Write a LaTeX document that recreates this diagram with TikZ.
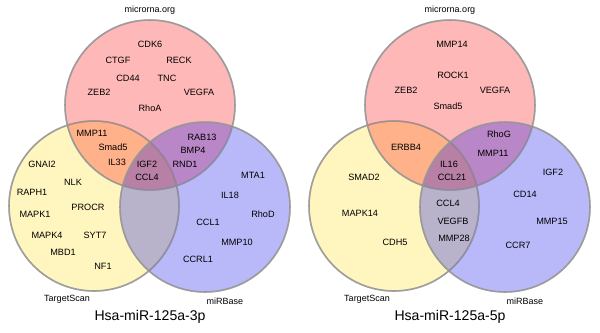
\documentclass[tikz,border=0pt]{standalone}
\usepackage{fontspec}
\setmainfont{Liberation Sans}
\usepackage{tikz}
\usetikzlibrary{positioning}
\definecolor{vennRed}{RGB}{255, 0, 0}
\definecolor{vennYellow}{RGB}{255, 219, 23}
\definecolor{vennBlue}{RGB}{5, 5, 237}
\definecolor{vennLine}{RGB}{150, 150, 150}
\tikzset{
  venn/.style={fill opacity=0.28, draw=vennLine, draw opacity=0.7, line width=1.1pt},
  gene/.style={inner sep=0pt, font=\fontsize{6.5}{7.5}\selectfont},
  source/.style={inner sep=0pt, font=\fontsize{6.4}{7.5}\selectfont},
  caption/.style={inner sep=0pt, font=\fontsize{10}{12}\selectfont}
}

\begin{document}
\begin{tikzpicture}[x=0.025cm, y=-0.025cm]
      \useasboundingbox (0,0) rectangle (600,332);

      % ---- Left diagram: Hsa-miR-125a-3p ----
      \fill[venn, fill=vennYellow] (94,206) circle[radius=85];
      \fill[venn, fill=vennRed] (150,105) circle[radius=85];
      \fill[venn, fill=vennBlue] (205,207) circle[radius=85];
      \draw[venn, fill=none] (94,206) circle[radius=85];
      \draw[venn, fill=none] (205,207) circle[radius=85];
      \draw[venn, fill=none] (150,105) circle[radius=85];

      \node[source] (lmirna) at (150,10) {microrna.org};
      \node[source] (ltscan) at (67,299) {TargetScan};
      \node[source] (lmirbase) at (225,301) {miRBase};
      \node[caption] (ltitle) at (150,317) {Hsa-miR-125a-3p};

      % microrna.org only
      \node[gene] (lcdk6) at (150,44) {CDK6};
      \node[gene] (lctgf) at (118,60) {CTGF};
      \node[gene] (lreck) at (179,60) {RECK};
      \node[gene] (lcd44) at (128,78) {CD44};
      \node[gene] (ltnc) at (167,78) {TNC};
      \node[gene] (lzeb2) at (99,92) {ZEB2};
      \node[gene] (lvegfa) at (199,92) {VEGFA};
      \node[gene] (lrhoa) at (150,108) {RhoA};
      % microrna.org and TargetScan
      \node[gene] (lmmp11) at (92,133) {MMP11};
      \node[gene] (lsmad5) at (113,147) {Smad5};
      \node[gene] (lil33) at (117,162) {IL33};
      % microrna.org and miRBase
      \node[gene] (lrab13) at (202,137) {RAB13};
      \node[gene] (lbmp4) at (193,150) {BMP4};
      \node[gene] (lrnd1) at (185,164) {RND1};
      % all three
      \node[gene] (ligf2) at (147,164) {IGF2};
      \node[gene] (lccl4) at (147,177) {CCL4};
      % TargetScan only
      \node[gene] (lgnai2) at (42,164) {GNAI2};
      \node[gene] (lnlk) at (73,182) {NLK};
      \node[gene] (lraph1) at (32,192) {RAPH1};
      \node[gene] (lprocr) at (88,207) {PROCR};
      \node[gene] (lmapk1) at (35,214) {MAPK1};
      \node[gene] (lmapk4) at (47,235) {MAPK4};
      \node[gene] (lsyt7) at (95,235) {SYT7};
      \node[gene] (lmbd1) at (63,252) {MBD1};
      \node[gene] (lnf1) at (103,266) {NF1};
      % miRBase only
      \node[gene] (lmta1) at (253,175) {MTA1};
      \node[gene] (lil18) at (230,195) {IL18};
      \node[gene] (lrhod) at (263,214) {RhoD};
      \node[gene] (lccl1) at (208,222) {CCL1};
      \node[gene] (lmmp10) at (237,242) {MMP10};
      \node[gene] (lccrl1) at (198,259) {CCRL1};

      % ---- Right diagram: Hsa-miR-125a-5p ----
      \fill[venn, fill=vennYellow] (394,206) circle[radius=85];
      \fill[venn, fill=vennRed] (450,105) circle[radius=85];
      \fill[venn, fill=vennBlue] (505,207) circle[radius=85];
      \draw[venn, fill=none] (394,206) circle[radius=85];
      \draw[venn, fill=none] (505,207) circle[radius=85];
      \draw[venn, fill=none] (450,105) circle[radius=85];

      \node[source] (rmirna) at (450,10) {microrna.org};
      \node[source] (rtscan) at (367,299) {TargetScan};
      \node[source] (rmirbase) at (525,301) {miRBase};
      \node[caption] (rtitle) at (450,317) {Hsa-miR-125a-5p};

      % microrna.org only
      \node[gene] (rmmp14) at (452,44) {MMP14};
      \node[gene] (rrock1) at (453,75) {ROCK1};
      \node[gene] (rzeb2) at (406,90) {ZEB2};
      \node[gene] (rvegfa) at (495,90) {VEGFA};
      \node[gene] (rsmad5) at (448,106) {Smad5};
      % microrna.org and TargetScan
      \node[gene] (rerbb4) at (406,147) {ERBB4};
      % microrna.org and miRBase
      \node[gene] (rrhog) at (499,134) {RhoG};
      \node[gene] (rmmp11) at (493,153) {MMP11};
      % all three
      \node[gene] (ril16) at (449,164) {IL16};
      \node[gene] (rccl21) at (452,177) {CCL21};
      % TargetScan only
      \node[gene] (rsmad2) at (364,177) {SMAD2};
      \node[gene] (rmapk14) at (360,213) {MAPK14};
      \node[gene] (rcdh5) at (395,242) {CDH5};
      % TargetScan and miRBase
      \node[gene] (rccl4) at (448,203) {CCL4};
      \node[gene] (rvegfb) at (453,221) {VEGFB};
      \node[gene] (rmmp28) at (454,238) {MMP28};
      % miRBase only
      \node[gene] (rigf2) at (553,172) {IGF2};
      \node[gene] (rcd14) at (525,194) {CD14};
      \node[gene] (rmmp15) at (552,221) {MMP15};
      \node[gene] (rccr7) at (518,245) {CCR7};
    \end{tikzpicture}
\end{document}
